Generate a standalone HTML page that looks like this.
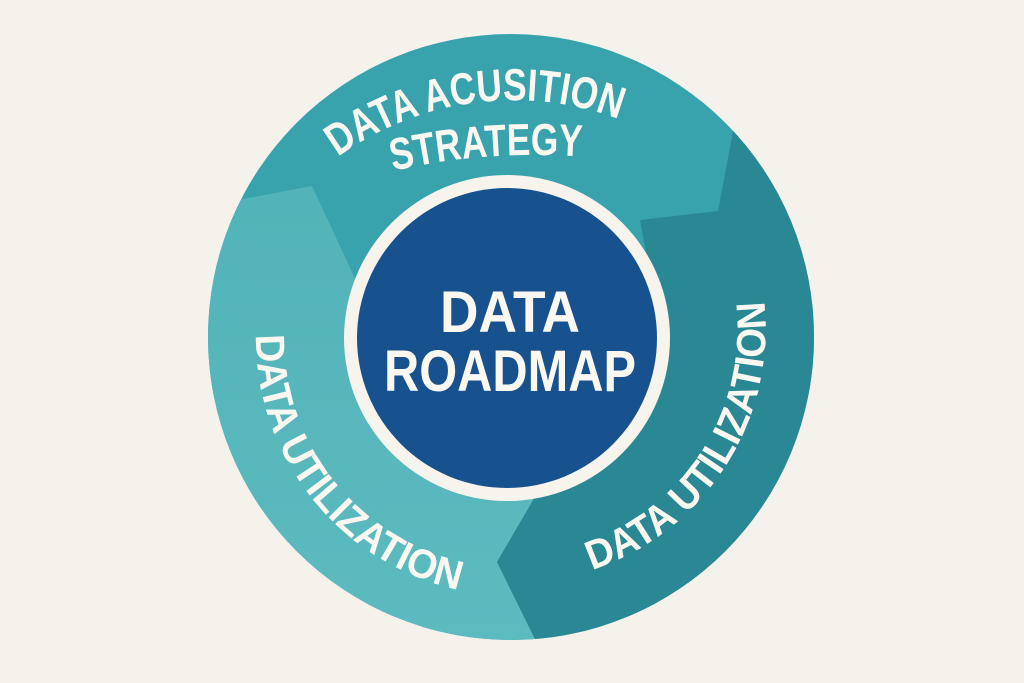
<!DOCTYPE html>
<html><head><meta charset="utf-8"><style>
html,body{margin:0;padding:0;background:#f5f2ec;}
svg{display:block;}
text{font-family:"Liberation Sans",sans-serif;font-weight:bold;fill:#fbf8f2;}
</style></head><body>
<svg width="1024" height="683" viewBox="0 0 1024 683">
<defs>
<clipPath id="c"><circle cx="511" cy="337" r="303"/></clipPath>
<linearGradient id="lg" x1="0" y1="0" x2="0" y2="1"><stop offset="0" stop-color="#52b3b8"/><stop offset="1" stop-color="#5dbcc0"/></linearGradient>
<path id="pTop" d="M 338 157 A 300 300 0 0 1 712 175"/>
<path id="pStr" d="M 393 171 Q 490 148 600 158"/>
<path id="pLeft" d="M 256 335 A 258 258 0 0 0 470 592"/>
<path id="pRight" d="M 592 570 A 254 254 0 0 0 764 300"/>
</defs>
<rect width="1024" height="683" fill="#f5f2ec"/>
<g clip-path="url(#c)">
<rect x="180" y="20" width="660" height="660" fill="#38a2ad"/>
<polygon points="120,222 312,186 352,272 420,420 539,490 497,562 565,700 100,700" fill="url(#lg)"/>
<polygon points="740,60 734,126 718,211 640,220 660,330 600,460 539,490 497,562 565,700 900,700 900,60" fill="#2a8894"/>
</g>
<circle cx="507" cy="338" r="163" fill="#f7f4ee"/>
<circle cx="507" cy="338" r="150" fill="#17528f"/>
<text font-size="58" text-anchor="middle" x="510" y="332" textLength="140" lengthAdjust="spacingAndGlyphs">DATA</text>
<text font-size="58" text-anchor="middle" x="510" y="391" textLength="252" lengthAdjust="spacingAndGlyphs">ROADMAP</text>
<text font-size="45"><textPath href="#pTop" textLength="295" lengthAdjust="spacingAndGlyphs">DATA ACUSITION</textPath></text>
<text font-size="45"><textPath href="#pStr" textLength="190" lengthAdjust="spacingAndGlyphs">STRATEGY</textPath></text>
<text font-size="41"><textPath href="#pLeft" textLength="352" lengthAdjust="spacingAndGlyphs">DATA UTILIZATION</textPath></text>
<text font-size="41"><textPath href="#pRight" textLength="345" lengthAdjust="spacingAndGlyphs">DATA UTILIZATION</textPath></text>
</svg>
</body></html>
